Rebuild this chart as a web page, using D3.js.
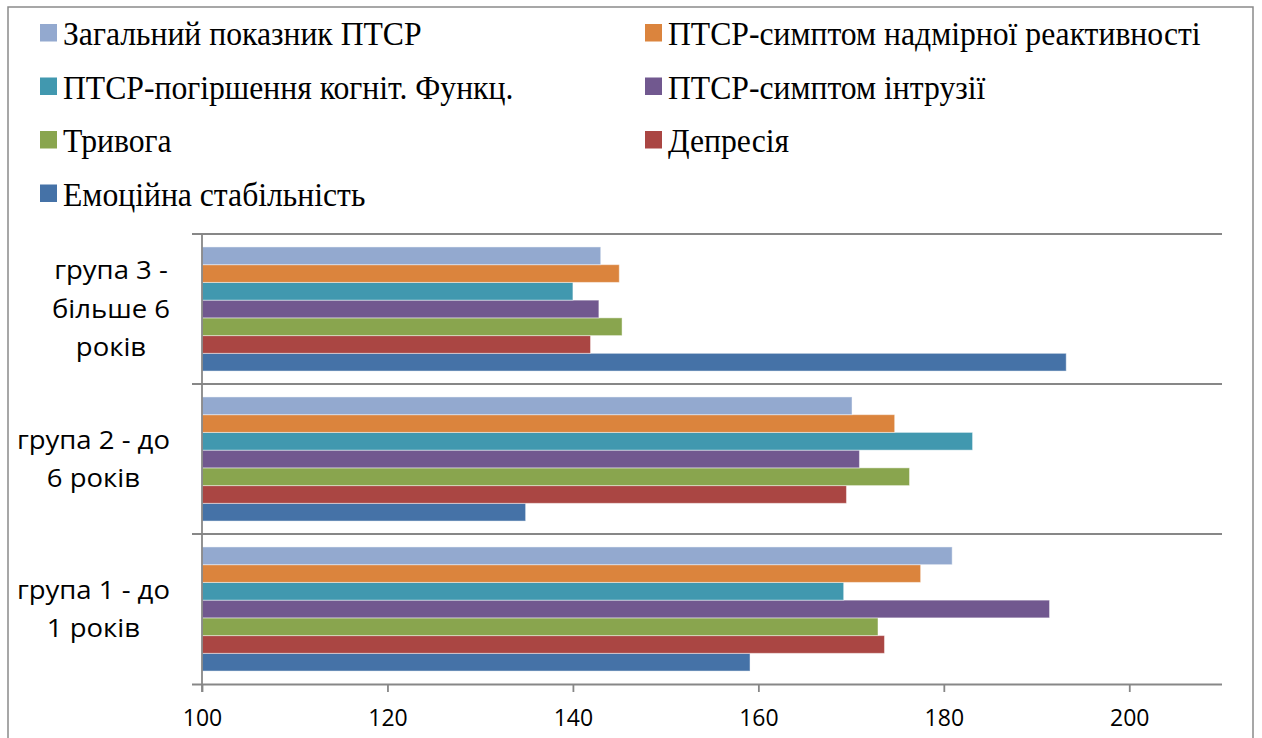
<!DOCTYPE html>
<html><head><meta charset="utf-8">
<script src="https://cdn.jsdelivr.net/npm/d3@7"></script>
<style>body{margin:0;background:#fff;} svg{display:block}</style>
</head><body><svg id="chart" width="1262" height="738"></svg>
<script>
// ---- data ----
const categories = ["група 1 - до 1 років", "група 2 - до 6 років", "група 3 - більше 6 років"];
const categoryLines = [["група 1 - до", "1 років"], ["група 2 - до", "6 років"], ["група 3 -", "більше 6", "років"]];
const seriesNames = ["Емоційна стабільність", "Депресія", "Тривога", "ПТСР-симптом інтрузії",
  "ПТСР-погіршення когніт. Функц.", "ПТСР-симптом надмірної реактивності", "Загальний показник ПТСР"];
const seriesColors = ["#4572A7", "#AA4643", "#89A54E", "#71588F", "#4198AF", "#DB843D", "#93A9CF"];
const emotionalStability = [159.1, 134.9, 193.2];
const depression = [173.6, 169.5, 141.9];
const anxiety = [172.9, 176.3, 145.3];
const intrusion = [191.4, 170.9, 142.8];
const cognitive = [169.2, 183.1, 140.0];
const hyperreactivity = [177.5, 174.7, 145.0];
const overallPTSD = [180.9, 170.1, 143.0];
const xTicks = [100, 120, 140, 160, 180, 200];
const xDomain = [100, 210];

const seriesValues = [emotionalStability, depression, anxiety, intrusion, cognitive, hyperreactivity, overallPTSD];

// ---- layout ----
const svg = d3.select("#chart");
const plot = {left: 202, right: 1222, top: 234, bottom: 684};
const gridColor = "#878787";
const sansFont = '"Open Sans", "Noto Sans", sans-serif';
const serifFont = '"Liberation Serif", "Times New Roman", serif';

svg.append("rect").attr("x", 8).attr("y", 7).attr("width", 1245).attr("height", 745)
  .attr("fill", "#fff").attr("stroke", "#8a8a8a").attr("stroke-width", 1.5);

const x = d3.scaleLinear().domain(xDomain).range([plot.left, plot.right]);
const y = d3.scaleBand().domain(categories).range([plot.bottom, plot.top]).padding(0);
const inner = d3.scaleBand().domain(seriesNames).range([y.bandwidth(), 0])
  .paddingInner(0).paddingOuter(0.73);

// horizontal category boundary lines (extend left as tick marks)
const boundaries = categories.map(c => y(c));
svg.append("g").selectAll("line").data(boundaries).join("line")
  .attr("x1", plot.left - 10).attr("x2", plot.right)
  .attr("y1", d => d).attr("y2", d => d)
  .attr("stroke", gridColor).attr("stroke-width", 1.8);

// bars
const bars = svg.append("g");
categories.forEach((c, ci) => {
  bars.append("g").selectAll("rect").data(seriesNames).join("rect")
    .attr("x", x(xDomain[0]))
    .attr("y", (s) => y(c) + inner(s))
    .attr("height", inner.bandwidth())
    .attr("width", (s, si) => x(seriesValues[si][ci]) - x(xDomain[0]))
    .attr("fill", (s, si) => seriesColors[si])
    .attr("stroke", "#ffffff").attr("stroke-opacity", 0.45).attr("stroke-width", 1);
});

// x axis
const xAxis = svg.append("g").attr("transform", `translate(0,${plot.bottom})`)
  .call(d3.axisBottom(x).tickValues(xTicks).tickSize(8).tickSizeOuter(0).tickPadding(18));
xAxis.attr("font-family", null).attr("font-size", null);
xAxis.select(".domain").attr("stroke", gridColor).attr("stroke-width", 1.8)
  .attr("d", `M${plot.left - 10},0.5H${plot.right}`);
xAxis.selectAll(".tick line").attr("stroke", gridColor).attr("stroke-width", 1.8);
xAxis.selectAll(".tick text").style("font-family", sansFont).style("font-size", "23px").attr("fill", "#000");

// y axis line
svg.append("line").attr("x1", plot.left).attr("x2", plot.left)
  .attr("y1", plot.top).attr("y2", plot.bottom + 8)
  .attr("stroke", gridColor).attr("stroke-width", 1.8);

// category labels: block right-aligned to label area, lines centred within block
const lineH = 38.5, labelRight = 170, labelScale = 1.1;
categories.forEach((c, ci) => {
  const lines = categoryLines[ci];
  const cy = y(c) + y.bandwidth() / 2 + 9 - (lines.length - 1) * lineH / 2;
  const g = svg.append("g");
  const t = g.append("text").attr("text-anchor", "middle")
    .style("font-family", sansFont).style("font-size", "25px").attr("fill", "#000");
  const spans = lines.map((l, li) => t.append("tspan").attr("x", 0).attr("y", cy + li * lineH).text(l));
  const maxW = d3.max(spans, s => s.node().getComputedTextLength()) * labelScale;
  g.attr("transform", `translate(${labelRight - maxW / 2},0) scale(${labelScale},1)`);
});

// legend (row-major, reversed series order)
const legendOrder = seriesNames.map((s, i) => i).reverse();
const legend = svg.append("g");
legendOrder.forEach((si, k) => {
  const col = k % 2, row = Math.floor(k / 2);
  const gx = col === 0 ? 40 : 645;
  const gy = 24 + row * 53.5;
  const g = legend.append("g").attr("transform", `translate(${gx},${gy})`);
  g.append("rect").attr("width", 17).attr("height", 17.5).attr("fill", seriesColors[si]);
  g.append("g").attr("transform", "translate(23,21) scale(0.96,1)")
    .append("text").attr("x", 0).attr("y", 0)
    .style("font-family", serifFont).style("font-size", "33px")
    .attr("fill", "#000").text(seriesNames[si]);
});
</script>
</body></html>
